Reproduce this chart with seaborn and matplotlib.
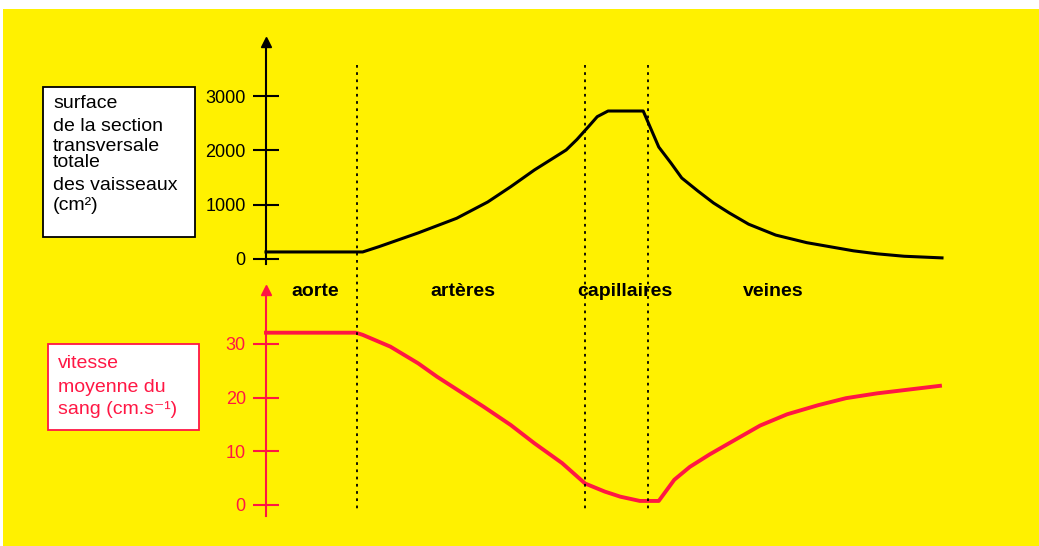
import matplotlib
matplotlib.use("Agg")
import matplotlib.pyplot as plt
import matplotlib.transforms as mtransforms
from matplotlib.patches import Rectangle
import seaborn as sns

plt.rcParams['font.family'] = ['Liberation Sans', 'DejaVu Sans']

YELLOW = '#fff100'
RED = '#ff1744'

# position along the circulation (0 = heart side, 100 = end of veins)
surf_pos = [0, 14.3, 16.7, 22.5, 28.2, 32.8, 36.2, 39.7, 44.4, 46.0, 47.8,
            49.0, 50.6, 55.8, 58.1, 59.9, 61.5, 63.9, 66.2, 68.5, 71.4,
            75.4, 80.0, 86.9, 90.4, 94.4, 100]
surf_val = [129, 129, 226, 479, 749, 1049, 1330, 1638, 2006, 2200, 2450,
            2620, 2724, 2724, 2061, 1767, 1491, 1250, 1031, 850, 640,
            440, 300, 150, 95, 50, 20]

speed_pos = [0, 13.3, 14.3, 18.4, 22.5, 25.3, 32.2, 36.2, 39.7, 43.8, 47.2,
             50.1, 52.4, 55.3, 58.1, 60.4, 62.7, 65.6, 68.5, 73.1, 77.1,
             81.7, 85.8, 90.4, 94.4, 99.7]
speed_val = [32.1, 32.1, 31.7, 29.5, 26.4, 23.9, 18.3, 14.9, 11.5, 7.8, 4.0,
             2.5, 1.55, 0.75, 0.75, 4.7, 7.1, 9.4, 11.5, 14.8, 16.9,
             18.6, 19.9, 20.8, 21.4, 22.2]

boundaries = [13.5, 47.2, 56.5]
region_names = ['aorte', 'artères', 'capillaires', 'veines']
region_centres = [7.3, 29.1, 53.1, 75.0]

surf_ticks = [0, 1000, 2000, 3000]
speed_ticks = [0, 10, 20, 30]

W, H = 1039, 546
fig = plt.figure(figsize=(W / 100, H / 100), dpi=100, facecolor='white')
fig.add_artist(Rectangle((3 / W, 0), 1 - 3 / W, 1 - 9 / H,
                         transform=fig.transFigure, facecolor=YELLOW,
                         edgecolor='none', zorder=0))

left = 266 / W
width = (942 - 266) / W
ax_top = fig.add_axes([left, (H - 264.4) / H, width, 222.7 / H])
ax_bot = fig.add_axes([left, (H - 515.7) / H, width, 225.4 / H])

sns.lineplot(x=surf_pos, y=surf_val, ax=ax_top, color='black',
             linewidth=2.2, clip_on=False)
sns.lineplot(x=speed_pos, y=speed_val, ax=ax_bot, color=RED,
             linewidth=2.8, clip_on=False)

ax_top.set_ylim(-100, 4000)
ax_bot.set_ylim(-2, 40)

for ax, col, ticks in [(ax_top, 'black', surf_ticks), (ax_bot, RED, speed_ticks)]:
    ax.set_facecolor('none')
    ax.set_xlim(0, 100)
    for s in ['top', 'right', 'bottom']:
        ax.spines[s].set_visible(False)
    ax.spines['left'].set_color(col)
    ax.spines['left'].set_linewidth(1.5)
    ax.set_xticks([])
    ax.set_yticks(ticks)
    ax.tick_params(axis='y', direction='inout', length=19, width=1.5,
                   color=col, labelcolor=col, labelsize=13, pad=5)
    ax.set_xlabel('')
    ax.set_ylabel('')
    ax.plot(0, 1, marker='^', color=col, markersize=7,
            transform=ax.transAxes, clip_on=False)

# dotted separators spanning both panels
blend = mtransforms.blended_transform_factory(ax_top.transData, fig.transFigure)
for b in boundaries:
    fig.add_artist(plt.Line2D([b, b], [1 - 65 / H, 1 - 510 / H], transform=blend,
                              color='black', linestyle=(0, (1.5, 2.5)),
                              linewidth=1.3))

for name, c in zip(region_names, region_centres):
    fig.text(c, 1 - 292 / H, name, transform=blend, ha='center', va='center',
             fontsize=14, fontweight='bold', color='black')

# legend boxes
fig.add_artist(Rectangle((43 / W, 1 - 237 / H), 152 / W, 150 / H,
                         transform=fig.transFigure, facecolor='white',
                         edgecolor='black', linewidth=1.3))
top_lines = ['surface', 'de la section', 'transversale', 'totale',
             'des vaisseaux', '(cm²)']
for txt, y in zip(top_lines, [103, 126, 147, 162, 186, 206]):
    fig.text(53 / W, 1 - y / H, txt, ha='left', va='center', fontsize=14,
             color='black')

fig.add_artist(Rectangle((48 / W, 1 - 430 / H), 151 / W, 86 / H,
                         transform=fig.transFigure, facecolor='white',
                         edgecolor=RED, linewidth=1.3))
bot_lines = ['vitesse', 'moyenne du', 'sang (cm.s⁻¹)']
for txt, y in zip(bot_lines, [364, 387, 409]):
    fig.text(58 / W, 1 - y / H, txt, ha='left', va='center', fontsize=14,
             color=RED)

fig.savefig('out.png', dpi=100, facecolor='white')
